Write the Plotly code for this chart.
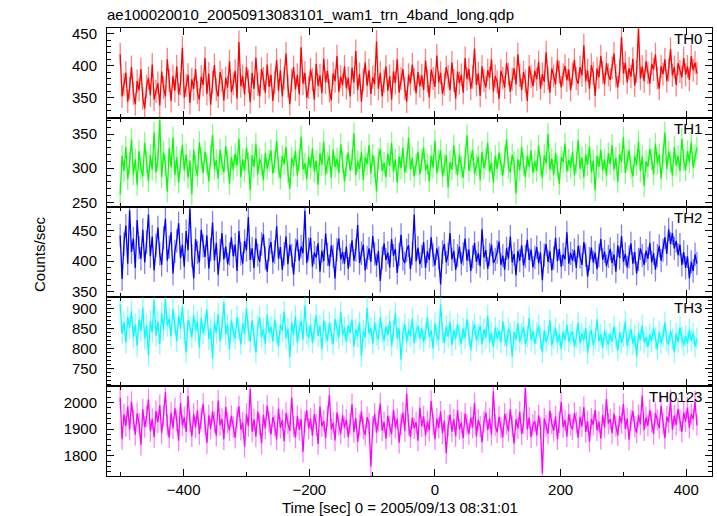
import plotly.graph_objects as go
from plotly.subplots import make_subplots

# ---- data (3 s bins starting at t = -501 s) ----
t_start = -501
t_step = 3

th0 = [418, 352, 371, 389, 344, 365, 398, 357, 340, 376, 362, 395, 349, 333, 368, 381, 354, 402, 347, 360,
       373, 338, 391, 366, 352, 410, 377, 345, 384, 361, 399, 355, 372, 428, 350, 369, 386, 342, 379, 364,
       395, 358, 347, 383, 370, 412, 356, 388, 339, 374, 401, 363, 352, 390, 377, 346, 381, 366, 407, 359,
       372, 392, 349, 437, 368, 384, 355, 398, 376, 343, 389, 364, 413, 371, 352, 395, 380, 358, 402, 367,
       386, 345, 374, 409, 361, 393, 352, 381, 419, 368, 340, 377, 398, 363, 386, 355, 429, 372, 389, 350,
       366, 394, 378, 347, 403, 369, 385, 357, 411, 374, 392, 361, 346, 388, 376, 415, 359, 383, 370, 399,
       365, 381, 352, 397, 374, 423, 362, 387, 344, 378, 405, 369, 393, 356, 382, 371, 438, 364, 389, 352,
       376, 399, 361, 384, 347, 391, 373, 410, 358, 380, 395, 365, 344, 386, 372, 402, 379, 357, 390, 368,
       385, 362, 408, 376, 351, 394, 380, 367, 416, 374, 389, 356, 371, 398, 383, 362, 405, 377, 349, 391,
       373, 386, 358, 412, 379, 395, 364, 382, 427, 370, 388, 353, 399, 377, 366, 393, 381, 410, 360, 384,
       375, 348, 392, 381, 366, 404, 387, 359, 379, 396, 371, 418, 385, 362, 390, 376, 345, 399, 383, 368,
       392, 379, 406, 364, 387, 375, 421, 381, 358, 396, 384, 371, 409, 390, 366, 386, 400, 377, 394, 362,
       387, 409, 380, 372, 398, 385, 432, 376, 393, 364, 401, 388, 353, 396, 382, 415, 390, 371, 404, 386,
       378, 397, 419, 384, 366, 392, 445, 388, 405, 374, 396, 383, 411, 369, 391, 458, 380, 399, 376, 407,
       389, 372, 403, 394, 418, 381, 364, 399, 387, 410, 376, 393, 426, 385, 398, 370, 404, 391, 382, 412,
       386, 399, 378, 415, 393, 405, 388]

th1 = [262, 318, 296, 331, 284, 307, 342, 291, 313, 276, 325, 300, 288, 337, 309, 281, 319, 298, 352, 294,
       312, 371, 287, 323, 305, 266, 329, 301, 345, 290, 316, 279, 308, 334, 297, 320, 286, 311, 262, 327,
       303, 289, 338, 315, 293, 324, 307, 281, 318, 349, 299, 312, 285, 327, 306, 294, 332, 310, 277, 316,
       298, 321, 304, 343, 287, 313, 296, 330, 308, 268, 319, 302, 336, 291, 314, 305, 283, 322, 299, 311,
       326, 292, 309, 340, 301, 285, 318, 306, 331, 294, 270, 315, 303, 325, 289, 312, 346, 298, 307, 284,
       317, 300, 329, 295, 311, 276, 322, 305, 339, 291, 308, 318, 286, 327, 302, 314, 293, 335, 309, 281,
       304, 323, 297, 312, 351, 290, 310, 299, 324, 283, 316, 306, 334, 292, 319, 302, 266, 314, 328, 296,
       308, 287, 321, 303, 337, 295, 313, 279, 317, 300, 330, 294, 309, 345, 298, 315, 288, 306, 324, 291,
       312, 330, 297, 306, 281, 318, 301, 340, 293, 311, 326, 288, 304, 319, 272, 309, 298, 333, 307, 290,
       320, 302, 286, 315, 348, 296, 310, 327, 292, 305, 317, 283, 324, 300, 313, 337, 295, 308, 279, 318,
       299, 323, 306, 289, 316, 342, 301, 294, 320, 308, 263, 313, 297, 331, 305, 287, 318, 302, 326, 293,
       310, 296, 333, 304, 285, 319, 307, 350, 298, 314, 290, 322, 303, 277, 316, 309, 336, 295, 312, 301,
       324, 290, 308, 341, 299, 316, 286, 320, 305, 332, 294, 311, 268, 318, 302, 327, 297, 313, 289, 322,
       306, 334, 298, 315, 280, 321, 309, 345, 293, 312, 326, 301, 288, 318, 305, 339, 296, 317, 274, 310,
       302, 328, 313, 291, 336, 307, 320, 285, 315, 352, 299, 324, 310, 289, 331, 304, 318, 296, 343, 312,
       297, 325, 309, 338, 301, 319, 330]

th2 = [442, 371, 428, 458, 396, 483, 415, 437, 389, 467, 422, 404, 451, 398, 431, 476, 408, 440, 385, 426,
       455, 412, 394, 438, 469, 401, 423, 447, 380, 416, 433, 462, 405, 427, 391, 449, 418, 486, 409, 372,
       436, 414, 398, 451, 425, 407, 442, 388, 419, 463, 401, 430, 378, 417, 446, 403, 424, 395, 412, 439,
       408, 427, 384, 449, 412, 396, 433, 418, 472, 402, 421, 389, 437, 410, 399, 428, 444, 405, 383, 419,
       431, 398, 415, 457, 404, 423, 386, 412, 440, 395, 427, 409, 378, 418, 435, 401, 424, 413, 482, 397,
       420, 438, 391, 414, 406, 429, 383, 417, 400, 445, 411, 392, 426, 408, 372, 419, 437, 403, 415, 396,
       424, 388, 410, 434, 401, 418, 459, 397, 413, 427, 385, 406, 421, 399, 441, 412, 393, 417, 368, 405,
       429, 402, 414, 390, 436, 409, 420, 381, 411, 443, 404, 397, 418, 426, 387, 413, 476, 400, 422, 395,
       408, 431, 389, 416, 402, 439, 410, 393, 421, 405, 362, 415, 428, 398, 411, 446, 403, 417, 386, 409,
       424, 396, 412, 437, 401, 419, 384, 407, 430, 399, 413, 392, 452, 406, 418, 388, 411, 427, 397, 403,
       415, 432, 394, 409, 386, 421, 404, 440, 398, 412, 377, 417, 401, 426, 393, 408, 435, 402, 419, 390,
       406, 423, 397, 414, 369, 410, 428, 399, 416, 385, 405, 438, 400, 420, 391, 411, 403, 447, 396, 413,
       401, 418, 389, 425, 407, 394, 431, 410, 375, 404, 422, 398, 414, 387, 409, 436, 402, 416, 392, 408,
       420, 397, 411, 383, 426, 405, 441, 399, 412, 390, 407, 429, 396, 415, 380, 403, 421, 409, 394, 417,
       404, 430, 398, 413, 386, 409, 425, 401, 418, 439, 412, 452, 428, 446, 421, 433, 410, 427, 394, 415,
       389, 408, 372, 399, 384, 411, 396]

th3 = [912, 838, 866, 815, 879, 852, 894, 829, 861, 807, 873, 845, 903, 826, 858, 784, 870, 841, 922, 833,
       868, 812, 889, 847, 924, 858, 876, 831, 899, 864, 819, 882, 850, 905, 838, 791, 872, 855, 829, 884,
       846, 868, 803, 877, 839, 861, 898, 824, 852, 775, 866, 840, 887, 819, 853, 916, 836, 860, 798, 872,
       842, 826, 880, 851, 811, 864, 837, 902, 846, 818, 871, 833, 790, 857, 879, 828, 849, 812, 886, 840,
       855, 819, 873, 838, 806, 861, 845, 893, 827, 850, 779, 866, 834, 881, 816, 847, 869, 823, 908, 839,
       828, 862, 815, 848, 884, 832, 857, 799, 871, 843, 820, 866, 838, 811, 875, 846, 827, 892, 835, 853,
       817, 859, 840, 873, 806, 849, 831, 866, 782, 845, 828, 902, 838, 852, 813, 867, 836, 824, 879, 842,
       821, 856, 834, 870, 808, 845, 889, 826, 851, 773, 839, 862, 817, 848, 831, 876, 814, 843, 858, 825,
       852, 818, 838, 879, 829, 846, 801, 864, 834, 822, 911, 841, 815, 856, 830, 868, 809, 847, 825, 861,
       834, 812, 851, 827, 874, 838, 796, 843, 862, 820, 836, 857, 811, 849, 828, 883, 817, 840, 804, 853,
       826, 845, 815, 869, 832, 808, 851, 838, 780, 842, 823, 864, 818, 837, 855, 812, 830, 877, 821, 844,
       812, 839, 858, 824, 791, 846, 817, 833, 871, 809, 828, 852, 815, 836, 799, 843, 822, 860, 818, 835,
       843, 806, 829, 865, 814, 838, 821, 852, 789, 831, 847, 810, 826, 874, 819, 836, 802, 845, 823, 811,
       837, 818, 856, 827, 795, 842, 815, 831, 868, 808, 826, 849, 813, 833, 781, 840, 822, 858, 816, 829,
       805, 836, 819, 851, 827, 798, 842, 814, 830, 866, 820, 811, 845, 824, 791, 838, 817, 853, 828, 809,
       832, 815, 847, 821, 839, 806, 826]

th0123 = [2018, 1862, 1956, 1912, 1985, 1898, 2003, 1934, 1879, 1960, 1921, 1841, 1975, 1908, 1947, 2012, 1893, 1939, 1870, 1968,
          1926, 1991, 1885, 1950, 2040, 1917, 1868, 1962, 1903, 1979, 1933, 1857, 1998, 1914, 1945, 1890, 2025, 1929, 1873, 1958,
          1907, 1971, 1882, 1941, 1995, 1919, 1848, 1952, 1901, 1966, 1927, 1876, 2008, 1915, 1939, 1862, 1983, 1924, 1896, 1950,
          1909, 1867, 1943, 1986, 1898, 1925, 1834, 1958, 1912, 2051, 1891, 1937, 1872, 1966, 1918, 1846, 1954, 1903, 1989, 1927,
          1880, 1946, 1914, 1862, 1978, 1905, 1934, 1855, 1961, 1921, 1893, 2019, 1910, 1868, 1949, 1897, 1938, 1815, 1928, 1971,
          1902, 1940, 1876, 1957, 1917, 1844, 1985, 1911, 1931, 1866, 1948, 2028, 1899, 1924, 1858, 1963, 1915, 1883, 1952, 1906,
          1936, 1871, 1920, 1994, 1889, 1942, 1853, 1916, 1967, 1901, 1878, 1945, 1922, 1760, 1909, 1958, 1887, 1931, 1997, 1895,
          1927, 1864, 1950, 1912, 1881, 1973, 1906, 1939, 1849, 1918, 1962, 1893, 2034, 1915, 1870, 1944, 1903, 1926, 1857, 1981,
          1911, 1948, 1877, 1929, 1896, 2006, 1919, 1862, 1940, 1905, 1966, 1884, 1932, 1810, 1913, 1955, 1891, 1937, 1874, 1972,
          1900, 1925, 1866, 1959, 1917, 1882, 1944, 1906, 1998, 1872, 1935, 1911, 1851, 1928, 1963, 1896, 1941, 1879, 2043, 1915,
          1888, 1947, 1907, 1869, 1958, 1920, 1893, 1976, 1912, 1846, 1937, 1903, 1965, 1881, 1923, 2056, 1899, 1944, 1870, 1916,
          1930, 1877, 1952, 1905, 1734, 1941, 1913, 1883, 1969, 1921, 1894, 1948, 1862, 1926, 2002, 1908, 1934, 1873, 1957, 1915,
          1899, 1961, 1925, 1868, 1946, 1911, 1983, 1890, 1930, 1853, 1939, 1917, 1972, 1896, 1928, 1864, 1954, 1906, 2013, 1921,
          1938, 1885, 1959, 1912, 1877, 1949, 1923, 1995, 1901, 1940, 1861, 1932, 1968, 1910, 1887, 1953, 1919, 2027, 1896, 1944,
          1913, 1972, 1928, 1882, 1961, 1935, 1904, 1988, 1920, 1866, 1947, 1925, 2009, 1898, 1951, 1916, 1977, 1933, 1890, 1962,
          1929, 1981, 1906, 1957, 1938, 2004, 1915]

band_names = ["TH0", "TH1", "TH2", "TH3", "TH0123"]
series = [th0, th1, th2, th3, th0123]
errors = [18, 16, 19, 27, 40]
colors = ["#ff0000", "#00ff00", "#0000ff", "#00ffff", "#ff00ff"]
err_colors = ["rgba(255,0,0,0.5)", "rgba(0,255,0,0.5)", "rgba(0,0,255,0.5)",
              "rgba(0,255,255,0.5)", "rgba(255,0,255,0.5)"]
y_ranges = [[319, 459], [243, 374], [342, 488], [706, 930], [1724, 2061]]
y_major = [50, 50, 50, 50, 100]
y_minor = [10, 10, 10, 10, 20]
x_range = [-522, 441]

title_text = "ae100020010_20050913083101_wam1_trn_4band_long.qdp"
x_title = "Time [sec] 0 = 2005/09/13 08:31:01"
y_title = "Counts/sec"

FONT = "Liberation Sans, Arial, Helvetica, sans-serif"
W, H = 717, 516
ML, MR, MT, MB = 107, 5, 28, 40

fig = make_subplots(rows=5, cols=1, shared_xaxes=True, vertical_spacing=0)

for i, (vals, name) in enumerate(zip(series, band_names)):
    t = [t_start + t_step * k for k in range(len(vals))]
    fig.add_trace(go.Scatter(
        x=t, y=vals, mode="lines",
        line=dict(color=colors[i], width=1.3),
        error_y=dict(type="constant", value=errors[i], color=err_colors[i],
                     thickness=1.3, width=0),
        showlegend=False, hoverinfo="skip"), row=i + 1, col=1)
    fig.update_yaxes(range=y_ranges[i], dtick=y_major[i], tick0=0,
                     minor=dict(dtick=y_minor[i], ticks="inside", ticklen=4,
                                tickcolor="black", showgrid=False),
                     row=i + 1, col=1)
    xd = "x domain" if i == 0 else f"x{i+1} domain"
    yd = "y domain" if i == 0 else f"y{i+1} domain"
    fig.add_annotation(text=name, xref=xd, yref=yd, x=0.987, y=1.0,
                       xanchor="right", yanchor="top", showarrow=False,
                       font=dict(family=FONT, size=15, color="black"))

fig.update_xaxes(range=x_range, dtick=200, tick0=0, ticks="inside", ticklen=7,
                 tickcolor="black", showline=True, linecolor="black", linewidth=1,
                 mirror="ticks", showgrid=False, zeroline=False,
                 minor=dict(dtick=100, ticks="inside", ticklen=4, tickcolor="black",
                            showgrid=False),
                 tickfont=dict(family=FONT, size=15, color="black"))
fig.update_yaxes(ticks="inside", ticklen=7, tickcolor="black", showline=True,
                 linecolor="black", linewidth=1, mirror="ticks", showgrid=False,
                 zeroline=False, ticklabelstandoff=6,
                 tickfont=dict(family=FONT, size=15, color="black"))

plot_h = H - MT - MB
fig.add_annotation(text=y_title, xref="paper", yref="paper",
                   x=(39 - ML) / (W - ML - MR), y=(H - MB - 254) / plot_h,
                   xanchor="center", yanchor="middle", textangle=-90, showarrow=False,
                   font=dict(family=FONT, size=15, color="black"))
fig.add_annotation(text=x_title, xref="paper", yref="paper",
                   x=(400 - ML) / (W - ML - MR), y=-(507 - (H - MB)) / plot_h,
                   xanchor="center", yanchor="middle", showarrow=False,
                   font=dict(family=FONT, size=15, color="black"))

fig.update_layout(
    width=W, height=H,
    margin=dict(l=ML, r=MR, t=MT, b=MB),
    paper_bgcolor="white", plot_bgcolor="white",
    title=dict(text=title_text, xref="container", yref="container",
               x=ML / W, xanchor="left", y=1 - 15 / H, yanchor="middle",
               font=dict(family=FONT, size=15, color="black")),
    showlegend=False,
)

fig.write_html("out.html", config={"displayModeBar": False},
               post_script="document.body.style.margin='0';document.body.style.overflow='hidden';")
